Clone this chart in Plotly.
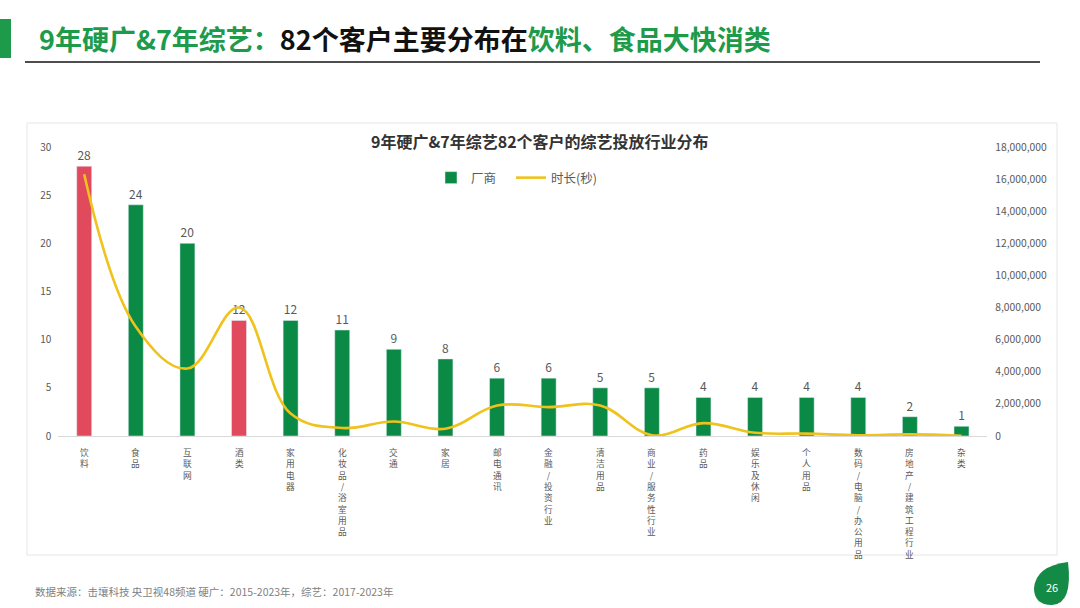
import plotly.graph_objects as go

W, H = 1080, 608

categories = ["饮料", "食品", "互联网", "酒类", "家用电器", "化妆品/浴室用品", "交通", "家居",
              "邮电通讯", "金融/投资行业", "清洁用品", "商业/服务性行业", "药品", "娱乐及休闲",
              "个人用品", "数码/电脑/办公用品", "房地产/建筑工程行业", "杂类"]
vendors = [28, 24, 20, 12, 12, 11, 9, 8, 6, 6, 5, 5, 4, 4, 4, 4, 2, 1]
duration = [16300000, 6800000, 4200000, 8000000, 1400000, 500000, 900000, 450000,
            1900000, 1800000, 1900000, 50000, 800000, 200000, 150000, 50000, 100000, 20000]
highlight = ["饮料", "酒类"]

left_ticks = [0, 5, 10, 15, 20, 25, 30]
right_ticks = list(range(0, 18000001, 2000000))

GREEN = "#0b8a45"
RED = "#e04a5c"
GOLD = "#efc21c"
GRAY = "#595959"
FONT = "Noto Sans CJK SC"


def px(x):
    return x / W


def py(y):
    return 1 - y / H


green_vals = [None if c in highlight else v for c, v in zip(categories, vendors)]
red_vals = [v if c in highlight else None for c, v in zip(categories, vendors)]

fig = go.Figure()
fig.add_trace(go.Bar(
    x=categories, y=green_vals, name="厂商", marker_color=GREEN, legend="legend",
    width=0.29, text=green_vals, textposition="outside", cliponaxis=False,
    textfont=dict(size=12, color=GRAY, family=FONT),
))
fig.add_trace(go.Bar(
    x=categories, y=red_vals, name="厂商", marker_color=RED, showlegend=False,
    width=0.29, text=red_vals, textposition="outside", cliponaxis=False,
    textfont=dict(size=12, color=GRAY, family=FONT),
))
fig.add_trace(go.Scatter(
    x=categories, y=duration, name="时长(秒)", yaxis="y2", mode="lines", legend="legend2",
    line=dict(color=GOLD, width=2.6, shape="spline", smoothing=1.1),
))

# vertical category labels (stacked characters)
annotations = []
for c in categories:
    annotations.append(dict(
        x=c, xref="x", y=py(444), yref="paper",
        text="<br>".join(c), showarrow=False, xanchor="center", yanchor="top",
        font=dict(size=8.7, color=GRAY, family=FONT),
    ))

# titles and notes
annotations.append(dict(
    x=px(37), y=py(38), xref="paper", yref="paper", xanchor="left", yanchor="middle",
    showarrow=False,
    text='<b><span style="color:#1e9a4b">9年硬广&amp;7年综艺：</span>'
         '<span style="color:#111111">82个客户主要分布在</span>'
         '<span style="color:#1e9a4b">饮料、食品大快消类</span></b>',
    font=dict(size=27, family=FONT),
))
annotations.append(dict(
    x=px(540), y=py(141), xref="paper", yref="paper", xanchor="center", yanchor="middle",
    showarrow=False, text="<b>9年硬广&amp;7年综艺82个客户的综艺投放行业分布</b>",
    font=dict(size=16, color="#333333", family=FONT),
))
annotations.append(dict(
    x=px(33), y=py(591), xref="paper", yref="paper", xanchor="left", yanchor="middle",
    showarrow=False, text="数据来源：击壤科技 央卫视48频道 硬广：2015-2023年，综艺：2017-2023年",
    font=dict(size=10.5, color="#7f7f7f", family=FONT),
))
annotations.append(dict(
    x=px(1052), y=py(587), xref="paper", yref="paper", xanchor="center", yanchor="middle",
    showarrow=False, text="26", font=dict(size=11, color="white", family=FONT),
))

leaf = (f"M {px(1034)},{py(588)} "
        f"Q {px(1036)},{py(566)} {px(1068)},{py(562)} "
        f"Q {px(1073)},{py(604)} {px(1052)},{py(605)} "
        f"Q {px(1034)},{py(605)} {px(1034)},{py(588)} Z")

shapes = [
    dict(type="rect", xref="paper", yref="paper", x0=px(27), x1=px(1057), y0=py(555), y1=py(123),
         line=dict(color="#e6e6e6", width=1), fillcolor="white", layer="below"),
    dict(type="rect", xref="paper", yref="paper", x0=0, x1=px(11), y0=py(58), y1=py(19),
         line=dict(width=0), fillcolor="#1e9a4b"),
    dict(type="line", xref="paper", yref="paper", x0=px(25), x1=px(1040), y0=py(62), y1=py(62),
         line=dict(color="#4d4d4d", width=2)),
    dict(type="path", xref="paper", yref="paper", path=leaf, fillcolor="#138a45",
         line=dict(width=0), layer="below"),
]

legend_common = dict(orientation="h", xanchor="left", yanchor="middle",
                     font=dict(size=12.5, color=GRAY, family=FONT), bgcolor="rgba(0,0,0,0)")

fig.update_layout(
    width=W, height=H,
    margin=dict(l=0, r=0, t=0, b=0, autoexpand=False),
    paper_bgcolor="white", plot_bgcolor="rgba(0,0,0,0)",
    font=dict(family=FONT, color=GRAY),
    showlegend=True,
    barmode="overlay",
    legend=dict(x=px(431), y=py(178), **legend_common),
    legend2=dict(x=px(511), y=py(178), **legend_common),
    xaxis=dict(domain=[px(58.4), px(987.3)], showticklabels=False, ticks="",
               showline=True, linecolor="#d9d9d9", linewidth=1, showgrid=False, zeroline=False),
    yaxis=dict(domain=[py(436), py(147)], range=[0, 30], tickvals=left_ticks,
               showgrid=False, zeroline=False, showline=False,
               tickfont=dict(size=10, color=GRAY), ticklabelstandoff=6),
    yaxis2=dict(domain=[py(436), py(147)], range=[0, 18000000], tickvals=right_ticks,
                tickformat=",", overlaying="y", side="right", anchor="x",
                showgrid=False, zeroline=False, showline=False,
                tickfont=dict(size=10.3, color=GRAY), ticklabelstandoff=7),
    annotations=annotations,
    shapes=shapes,
)

fig.write_html("out.html", config={"displayModeBar": False},
               post_script="document.body.style.margin='0';document.body.style.padding='0';")
